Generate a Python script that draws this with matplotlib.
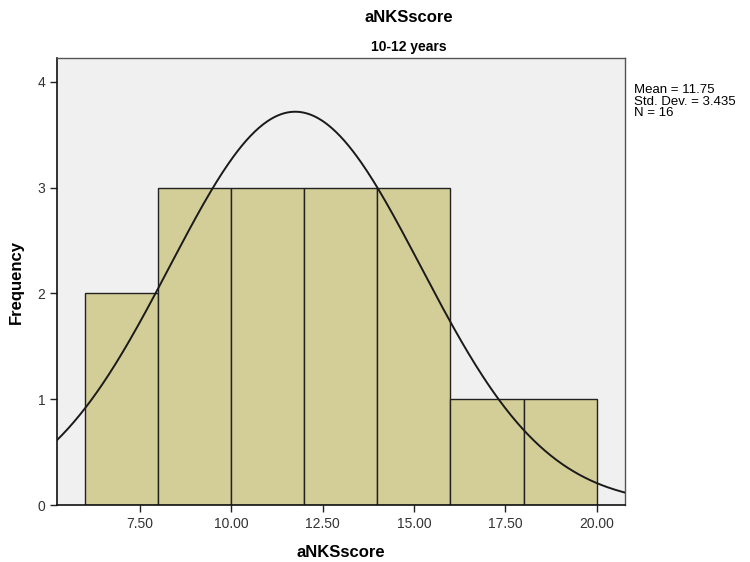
import numpy as np
import matplotlib
matplotlib.use('Agg')
import matplotlib.pyplot as plt

# histogram of aNKSscore, 10-12 years group
bin_edges = [6, 8, 10, 12, 14, 16, 18, 20]
counts = [2, 3, 3, 3, 3, 1, 1]
mean = 11.75
sd = 3.435
n = 16
xticks = [7.5, 10.0, 12.5, 15.0, 17.5, 20.0]
yticks = [0, 1, 2, 3, 4]

plt.rcParams['font.family'] = ['Liberation Sans', 'DejaVu Sans']

fig = plt.figure(figsize=(7.5, 5.62), dpi=100)
ax = fig.add_axes([0.076, 0.1014, 0.757, 0.7946])
ax.set_facecolor('#F0F0F0')

widths = np.diff(bin_edges)
ax.bar(bin_edges[:-1], counts, width=widths, align='edge',
       color='#D3CE97', edgecolor='#222222', linewidth=1.0, zorder=2)

# normal curve scaled to counts
xlo, xhi = 5.23, 20.77
x = np.linspace(xlo, xhi, 400)
binw = bin_edges[1] - bin_edges[0]
y = n * binw / (sd * np.sqrt(2 * np.pi)) * np.exp(-0.5 * ((x - mean) / sd) ** 2)
ax.plot(x, y, color='#1a1a1a', linewidth=1.4, zorder=3)

ax.set_xlim(xlo, xhi)
ax.set_ylim(0, 4.22)
ax.set_xticks(xticks)
ax.set_xticklabels(['%.2f' % v for v in xticks])
ax.set_yticks(yticks)
ax.tick_params(direction='out', length=5, width=1, labelsize=10,
               colors='#222222', labelcolor='#333333')

for s in ['left', 'bottom']:
    ax.spines[s].set_color('#111111')
    ax.spines[s].set_linewidth(1.2)
for s in ['top', 'right']:
    ax.spines[s].set_color('#555555')
    ax.spines[s].set_linewidth(1.0)

ax.set_xlabel('aNKSscore', fontsize=12, fontweight='bold', labelpad=10)
ax.set_ylabel('Frequency', fontsize=12, fontweight='bold', labelpad=10)
fig.text(0.545, 0.969, 'aNKSscore', ha='center', va='center',
         fontsize=12, fontweight='bold')
fig.text(0.545, 0.917, '10-12 years', ha='center', va='center',
         fontsize=10, fontweight='bold')

fig.text(0.846, 0.85, 'Mean = %.2f\nStd. Dev. = %.3f\nN = %d' % (mean, sd, n),
         ha='left', va='top', fontsize=9.5, linespacing=0.92)

fig.savefig('out.png', dpi=100)
